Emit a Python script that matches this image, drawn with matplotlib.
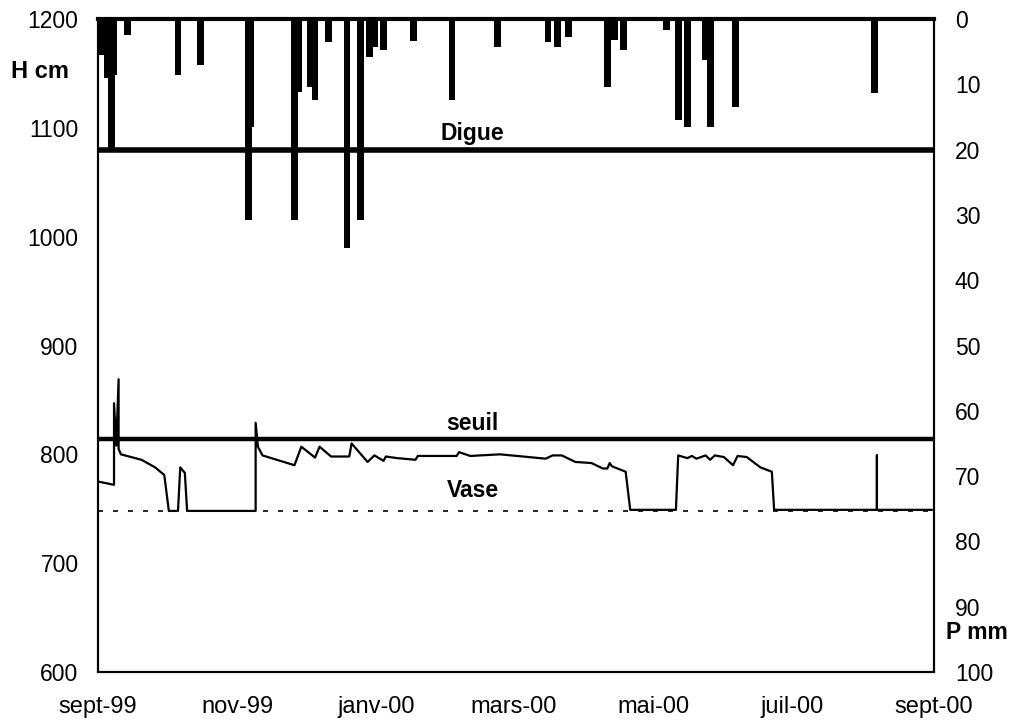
import numpy as np
import pandas as pd
import matplotlib
matplotlib.use('Agg')
import matplotlib.pyplot as plt

plt.rcParams['font.family'] = ['Liberation Sans', 'DejaVu Sans']

# water level (H cm)
level_dates = [
    '1999-09-01', '1999-09-08', '1999-09-08', '1999-09-09', '1999-09-10', '1999-09-10',
    '1999-09-11', '1999-09-20', '1999-09-26', '1999-09-30', '1999-10-02', '1999-10-06',
    '1999-10-07', '1999-10-09', '1999-10-10', '1999-11-09', '1999-11-09', '1999-11-10',
    '1999-11-12', '1999-11-26', '1999-11-29', '1999-12-05', '1999-12-07', '1999-12-12',
    '1999-12-20', '1999-12-21', '1999-12-28', '1999-12-31', '2000-01-04', '2000-01-05',
    '2000-01-10', '2000-01-18', '2000-01-19', '2000-02-05', '2000-02-06', '2000-02-11',
    '2000-02-24', '2000-03-15', '2000-03-18', '2000-03-22', '2000-03-28', '2000-04-04',
    '2000-04-09', '2000-04-11', '2000-04-12', '2000-04-13', '2000-04-19', '2000-04-21',
    '2000-05-11', '2000-05-12', '2000-05-16', '2000-05-18', '2000-05-20', '2000-05-24',
    '2000-05-26', '2000-05-28', '2000-06-01', '2000-06-05', '2000-06-07', '2000-06-11',
    '2000-06-17', '2000-06-22', '2000-06-23', '2000-08-07', '2000-08-07', '2000-08-07',
    '2000-08-31',
]
level_cm = [
    775, 772, 847, 808, 869, 805,
    800, 795, 788, 781, 748, 748,
    788, 783, 748, 748, 829, 807,
    799, 790, 807, 797, 807, 798,
    798, 810, 793, 799, 794, 798,
    796.5, 795, 798.5, 798.5, 802, 798.5,
    800, 796, 799, 799, 793, 792,
    787, 787, 792, 789, 784, 749,
    749, 799, 796.5, 798.5, 796, 799,
    795, 799, 797.5, 790, 798.5, 797.5,
    788, 784, 749, 749, 799, 749,
    749,
]

# daily rainfall (P mm)
rain_dates = [
    '1999-09-03', '1999-09-05', '1999-09-07', '1999-09-08', '1999-09-14', '1999-10-06',
    '1999-10-16', '1999-11-06', '1999-11-07', '1999-11-26', '1999-11-28', '1999-12-03',
    '1999-12-05', '1999-12-11', '1999-12-19', '1999-12-25', '1999-12-29', '1999-12-31',
    '2000-01-04', '2000-01-17', '2000-02-03', '2000-02-23', '2000-03-16', '2000-03-20',
    '2000-03-25', '2000-04-11', '2000-04-12', '2000-04-14', '2000-04-18', '2000-05-07',
    '2000-05-12', '2000-05-16', '2000-05-24', '2000-05-26', '2000-06-06', '2000-08-06',
]
rain_mm = [
    5.5, 9.0, 19.8, 8.5, 2.5, 8.6,
    7.0, 30.8, 16.5, 30.8, 11.2, 10.4,
    12.4, 3.5, 35.0, 30.8, 5.8, 4.3,
    4.7, 3.4, 12.4, 4.3, 3.5, 4.3,
    2.7, 10.4, 3.0, 3.2, 4.7, 1.7,
    15.5, 16.5, 6.3, 16.5, 13.5, 11.3,
]

# reference levels (cm)
digue_cm = 1080
seuil_cm = 814
vase_cm = 748

month_ticks = ['1999-09-01', '1999-11-01', '2000-01-01', '2000-03-01',
               '2000-05-01', '2000-07-01', '2000-09-01']
month_labels = ['sept-99', 'nov-99', 'janv-00', 'mars-00', 'mai-00', 'juil-00', 'sept-00']

level_x = pd.to_datetime(level_dates)
rain_x = pd.to_datetime(rain_dates)
tick_x = pd.to_datetime(month_ticks)

fig = plt.figure(figsize=(10.17, 7.26), dpi=100)
ax = fig.add_axes([0.0964, 0.0744, 0.822, 0.8994])

ax.axhline(digue_cm, color='black', lw=4, zorder=3)
ax.axhline(seuil_cm, color='black', lw=3.2, zorder=3)
ax.axhline(vase_cm, color='black', lw=1.2, ls=(0, (3, 6)), zorder=2)
ax.plot(level_x, level_cm, color='black', lw=1.6, zorder=4)

ax.set_ylim(600, 1200)
ax.set_yticks(np.arange(600, 1201, 100))
ax.set_xlim(tick_x[0], tick_x[-1])
ax.set_xticks(tick_x)
ax.set_xticklabels(month_labels)
ax.tick_params(axis='y', labelsize=16.5, length=0, pad=14)
ax.tick_params(axis='x', labelsize=17, length=0, pad=17)

ax.text(0.448, digue_cm + 4, 'Digue', transform=ax.get_yaxis_transform(),
        ha='center', va='bottom', fontsize=16.5, fontweight='bold')
ax.text(0.448, seuil_cm + 4, 'seuil', transform=ax.get_yaxis_transform(),
        ha='center', va='bottom', fontsize=16.5, fontweight='bold')
ax.text(0.448, vase_cm + 8, 'Vase', transform=ax.get_yaxis_transform(),
        ha='center', va='bottom', fontsize=16.5, fontweight='bold')

ax2 = ax.twinx()
ax2.bar(rain_x, rain_mm, width=3, bottom=0, color='black', zorder=3)
ax2.set_ylim(100, 0)
ax2.set_yticks(np.arange(0, 101, 10))
ax2.tick_params(axis='y', labelsize=16.5, length=0, pad=15)
ax2.set_xlim(tick_x[0], tick_x[-1])

for a in (ax, ax2):
    for s in a.spines.values():
        s.set_linewidth(1.5)
ax2.spines['top'].set_linewidth(3)

fig.text(0.011, 0.901, 'H cm', fontsize=17, fontweight='bold', va='center')
fig.text(0.930, 0.129, 'P mm', fontsize=16.5, fontweight='bold', va='center')

fig.savefig('out.png', dpi=100)
